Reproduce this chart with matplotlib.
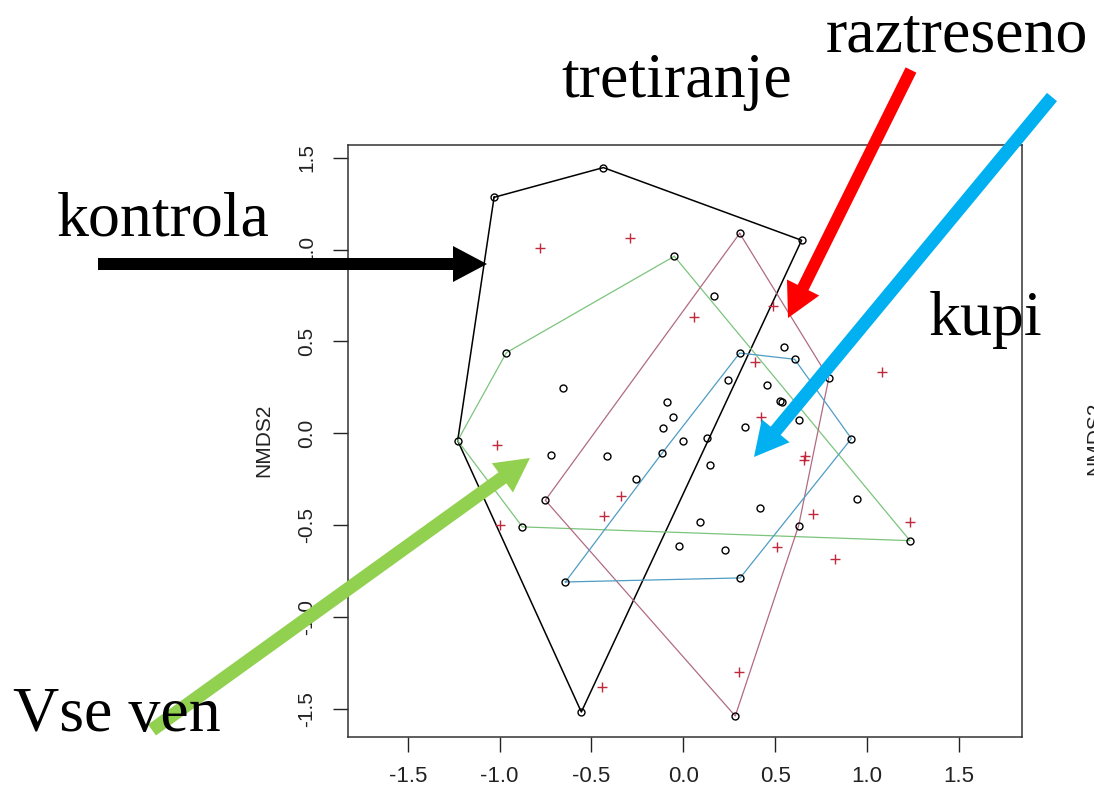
import matplotlib
matplotlib.use("Agg")
import matplotlib.pyplot as plt
from matplotlib.patches import Polygon
from matplotlib.transforms import Affine2D
import numpy as np

# site scores (open circles)
site_x = [-1.030, -0.435, 0.644, -0.555, -1.228, -0.049, -0.963, -0.876, 1.234,
          0.307, 0.792, 0.628, 0.283, -0.751, -0.642, -0.116, 0.307, 0.606, 0.915, 0.309,
          0.169, -0.657, -0.087, -0.058, -0.111, 0.131, 0.000, -0.722, -0.415, 0.147,
          -0.256, 0.089, -0.022, 0.227, 0.548, 0.242, 0.454, 0.528, 0.535, 0.628,
          0.338, 0.944, 0.418]
site_y = [1.285, 1.447, 1.051, -1.518, -0.040, 0.964, 0.439, -0.510, -0.585,
          1.089, 0.300, -0.503, -1.540, -0.365, -0.810, -0.109, 0.437, 0.403, -0.029, -0.788,
          0.746, 0.248, 0.169, 0.087, 0.031, -0.026, -0.044, -0.118, -0.124, -0.174,
          -0.249, -0.481, -0.612, -0.634, 0.468, 0.290, 0.263, 0.174, 0.170, 0.072,
          0.036, -0.358, -0.407]

# species scores (red crosses)
spec_x = [-0.780, -0.290, 0.058, 0.490, 0.389, 1.082, 0.425, 0.661, 0.655, -1.014,
          -0.341, -0.430, -0.998, 0.708, 1.234, 0.512, 0.827, -0.443, 0.305]
spec_y = [1.008, 1.065, 0.635, 0.693, 0.387, 0.336, 0.089, -0.124, -0.145, -0.064,
          -0.343, -0.452, -0.498, -0.438, -0.483, -0.621, -0.686, -1.380, -1.300]

# hull vertices per treatment
hull_kontrola = [(-1.030, 1.285), (-0.435, 1.447), (0.644, 1.051), (-0.555, -1.518), (-1.228, -0.040)]
hull_vseven = [(-0.049, 0.964), (-0.963, 0.439), (-1.228, -0.040), (-0.876, -0.510), (1.234, -0.585)]
hull_raztreseno = [(0.307, 1.089), (0.792, 0.300), (0.628, -0.503), (0.283, -1.540), (-0.751, -0.365)]
hull_kupi = [(-0.642, -0.810), (-0.116, -0.109), (0.307, 0.437), (0.606, 0.403), (0.915, -0.029), (0.309, -0.788)]

ticks = [-1.5, -1.0, -0.5, 0.0, 0.5, 1.0, 1.5]

W, H = 1094, 792

fig = plt.figure(figsize=(W / 100, H / 100), dpi=100)
ax = fig.add_axes([348 / W, 1 - 737.3 / H, (1021.7 - 348) / W, (737.3 - 145) / H])

for hull, col, lw in [(hull_kontrola, "black", 1.1), (hull_vseven, "#7cc47c", 0.9),
                      (hull_raztreseno, "#b06a84", 0.9), (hull_kupi, "#4f9cc4", 0.9)]:
    pts = np.array(hull + [hull[0]])
    ax.plot(pts[:, 0], pts[:, 1], color=col, lw=lw, zorder=2)

ax.plot(site_x, site_y, 'o', mfc='none', mec='black', ms=5, mew=1.0, zorder=3)
ax.plot(spec_x, spec_y, '+', color='#c0283c', ms=6.5, mew=1.0, zorder=3)

ax.set_xlim(-1.825, 1.842)
ax.set_ylim(-1.656, 1.570)
ax.set_xticks(ticks)
ax.set_yticks(ticks)
ax.set_xticklabels([f"{t:.1f}" for t in ticks], fontsize=16, family='Liberation Sans')
ax.set_yticklabels([f"{t:.1f}" for t in ticks], fontsize=15, family='Liberation Sans')
plt.setp(ax.get_yticklabels(), rotation=90, va='center', ha='right')
ax.tick_params(axis='x', length=11, width=1, pad=10, colors='#222222')
ax.tick_params(axis='y', length=11, width=1, pad=12, colors='#222222')
for s in ax.spines.values():
    s.set_linewidth(1.1)
    s.set_color('#333333')

# pixel -> figure helper for the overlay
tr = Affine2D().scale(1 / W, -1 / H).translate(0, 1) + fig.transFigure

fig.text(263.3 / W, 1 - 440 / H, "NMDS2", rotation=90, ha='center', va='center',
         fontsize=15, family='Liberation Sans', color='#222222')
# second panel's label, cut by the image edge as in the original
fig.text(1095 / W, 1 - 438 / H, "NMDS2", rotation=90, ha='center', va='center',
         fontsize=15, family='Liberation Sans', color='#222222')


def arrow(tail, tip, color, shaft=12.5, head_w=36, head_l=34):
    p0 = np.array(tail, float)
    p1 = np.array(tip, float)
    d = (p1 - p0) / np.hypot(*(p1 - p0))
    n = np.array([-d[1], d[0]])
    base = p1 - d * head_l
    poly = [p0 + n * shaft / 2, base + n * shaft / 2, base + n * head_w / 2, p1,
            base - n * head_w / 2, base - n * shaft / 2, p0 - n * shaft / 2]
    fig.add_artist(Polygon(poly, closed=True, color=color, lw=0, transform=tr, zorder=10))


arrow((98, 264), (487, 264), 'black', shaft=12)
arrow((911, 70), (788, 318), '#ff0000', shaft=12)
arrow((1052, 97), (754, 457), '#00b0f0', shaft=13)
arrow((152, 730), (530, 458), '#92d050', shaft=13.5)

labels = [("kontrola", 56.7, 235), ("tretiranje", 561.7, 96.7), ("raztreseno", 826, 51.7),
          ("kupi", 928.3, 335), ("Vse ven", 13.3, 730.7)]
for txt, x, y in labels:
    fig.text(x / W, 1 - y / H, txt, ha='left', va='baseline', fontsize=46,
             family='Liberation Serif', color='black', zorder=11)

fig.savefig("out.png", dpi=100)
